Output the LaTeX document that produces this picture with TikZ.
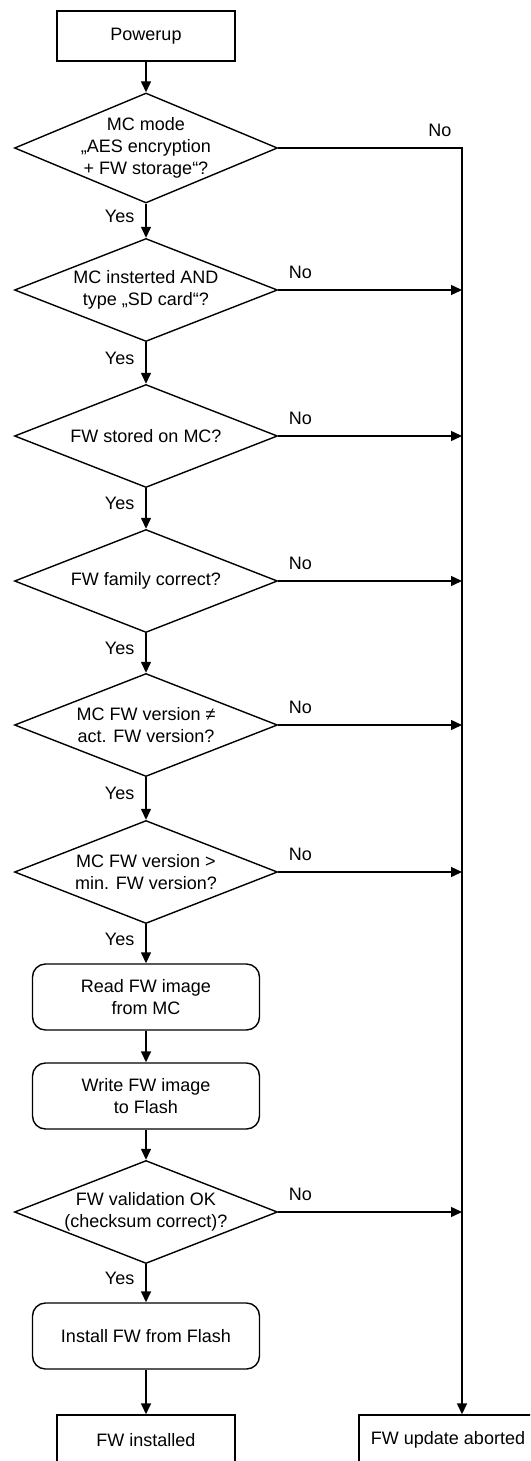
\documentclass[tikz,border=0pt]{standalone}
\usepackage{fontspec}
\setmainfont{Liberation Sans}
\usetikzlibrary{shapes.geometric,arrows.meta}

\begin{document}
\begin{tikzpicture}[x=1pt,y=-1pt,
    font=\fontsize{18}{22}\selectfont,
    line width=1.4pt,
    procbox/.style={draw, rectangle, minimum width=178pt, minimum height=50pt, inner sep=0pt},
    roundbox/.style={draw, rectangle, rounded corners=13pt, minimum width=227pt, minimum height=66pt, inner sep=0pt, align=center},
    decision/.style={draw, diamond, aspect=2.55, minimum width=263pt, minimum height=103pt, inner xsep=-30pt, inner ysep=0pt, align=center},
    yes/.style={left=11pt, inner sep=0pt, pos=0.38},
    no/.style={anchor=south west, inner sep=0pt, xshift=10pt, yshift=10.5pt},
    flow/.style={-{Triangle[length=11pt,width=10pt]}}]
      \useasboundingbox (0,0) rectangle (530,1461);
      \clip (0,0) rectangle (530,1461);
      \draw
        (146,36) node[procbox] (0) {Powerup}
        (146,148) node[decision, minimum height=110pt] (1) {MC mode\\„AES encryption\\+ FW storage“?}
        (146,290) node[decision] (2) {MC insterted AND\\type „SD card“?}
        (146,436) node[decision] (3) {FW stored on MC?}
        (146,581) node[decision] (4) {FW family correct?}
        (146,725) node[decision] (5) {MC FW version ≠\\act. FW version?}
        (146,872) node[decision] (6) {MC FW version >\\min. FW version?}
        (146,997) node[roundbox] (7) {Read FW image\\from MC}
        (146,1096) node[roundbox] (8) {Write FW image\\to Flash}
        (146,1212) node[decision] (9) {FW validation OK\\(checksum correct)?}
        (146,1336) node[roundbox] (10) {Install FW from Flash}
        (146,1440) node[procbox] (11) {FW installed}
        (448,1440) node[procbox] (12) {FW update aborted};
      \coordinate (c) at (462,148);
      \begin{scope}[flow]
        \draw (0) to (1);
        \draw (1) to node[yes] {Yes} (2);
        \draw (2) to node[yes] {Yes} (3);
        \draw (3) to node[yes] {Yes} (4);
        \draw (4) to node[yes] {Yes} (5);
        \draw (5) to node[yes] {Yes} (6);
        \draw (6) to node[yes] {Yes} (7);
        \draw (7) to (8);
        \draw (8) to (9);
        \draw (9) to node[yes] {Yes} (10);
        \draw (10) to (11);
        \draw (1) -- (c) node[anchor=south east, inner sep=0pt, xshift=-10pt, yshift=10.5pt] {No} -- (c |- 12.north);
        \draw (2) to node[no, pos=0] {No} (2 -| c);
        \draw (3) to node[no, pos=0] {No} (3 -| c);
        \draw (4) to node[no, pos=0] {No} (4 -| c);
        \draw (5) to node[no, pos=0] {No} (5 -| c);
        \draw (6) to node[no, pos=0] {No} (6 -| c);
        \draw (9) to node[no, pos=0] {No} (9 -| c);
      \end{scope}
    \end{tikzpicture}
\end{document}
